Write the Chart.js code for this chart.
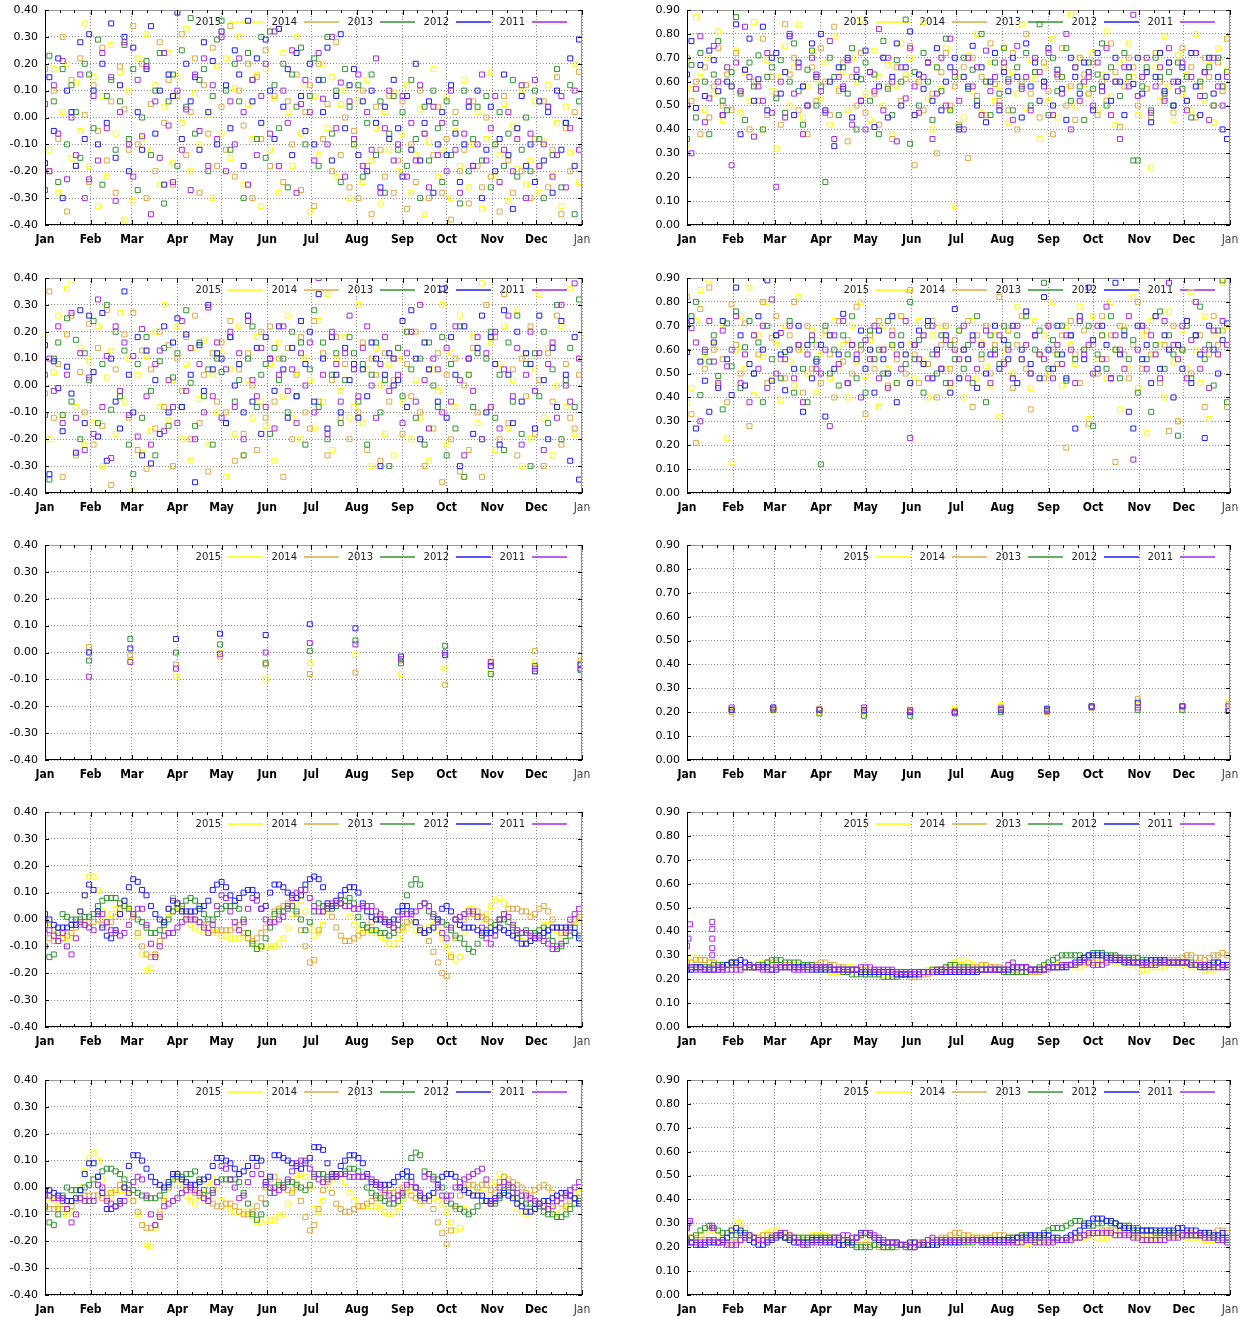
<!DOCTYPE html>
<html>
<head>
<meta charset="utf-8">
<script src="https://cdn.jsdelivr.net/npm/chart.js@4.4.0/dist/chart.umd.min.js"></script>
<style>
  html, body { margin:0; padding:0; background:#fff; width:1248px; height:1317px; overflow:hidden; }
  .p { position:absolute; }
</style>
</head>
<body>
<div class="p" style="left:0;top:0"><canvas id="c1L" width="600" height="250"></canvas></div>
<div class="p" style="left:642px;top:0"><canvas id="c1R" width="606" height="250"></canvas></div>
<div class="p" style="left:0;top:268px"><canvas id="c2L" width="600" height="250"></canvas></div>
<div class="p" style="left:642px;top:268px"><canvas id="c2R" width="606" height="250"></canvas></div>
<div class="p" style="left:0;top:535px"><canvas id="c3L" width="600" height="250"></canvas></div>
<div class="p" style="left:642px;top:535px"><canvas id="c3R" width="606" height="250"></canvas></div>
<div class="p" style="left:0;top:802px"><canvas id="c4L" width="600" height="250"></canvas></div>
<div class="p" style="left:642px;top:802px"><canvas id="c4R" width="606" height="250"></canvas></div>
<div class="p" style="left:0;top:1070px"><canvas id="c5L" width="600" height="250"></canvas></div>
<div class="p" style="left:642px;top:1070px"><canvas id="c5R" width="606" height="250"></canvas></div>
<script>
// axis + legend data
const monthStarts = [0,31,59,90,120,151,181,212,243,273,304,334,365];
const monthLabels = ['Jan','Feb','Mar','Apr','May','Jun','Jul','Aug','Sep','Oct','Nov','Dec','Jan'];
const monthEnds = [30,58,89,119,150,180,211,242,272,303,333,364];
const years = ['2015','2014','2013','2012','2011'];
const yearColors = ['rgb(255,255,0)','rgb(225,168,64)','rgb(50,150,50)','rgb(30,30,255)','rgb(168,40,232)'];
const dayStep = 3; // daily series sampled every 3rd day

// ---- row 1, left
const r1L_2015 = [
  .05,-.12,.18,-.28,.02,.20,-.15,.13,-.05,.35,
  -.18,.15,-.33,.08,-.22,.27,-.06,.17,-.38,.10,
  -.31,.22,-.08,.31,-.12,.12,-.25,.04,.24,-.17,
  .15,-.02,.33,-.20,.09,-.10,.28,.01,-.30,.19,
  -.06,.22,-.15,.11,.30,-.25,.05,-.08,.16,-.33,
  .18,-.12,.07,-.28,.24,.02,-.18,.30,-.06,.12,
  -.35,.08,-.14,.20,-.04,.15,-.22,.05,.10,-.30,
  -.10,.06,-.24,.14,-.16,-.04,-.32,.02,-.12,.09,
  -.20,-.06,.12,-.28,-.14,.03,-.36,-.09,.18,-.22,
  -.12,.08,-.30,-.05,-.18,.14,-.26,-.10,.02,-.34,
  -.08,.17,-.22,-.14,.05,-.31,-.03,-.19,.10,-.25,
  -.16,.06,-.28,-.09,.12,-.21,-.02,-.33,.04,-.13,.20,-.24
];
const r1L_2014 = [
  .18,-.20,.10,-.08,.30,-.35,.14,-.18,.22,.01,
  -.24,.12,-.05,.26,-.16,.06,-.28,.19,.03,-.12,
  .34,-.10,.20,-.30,.05,-.20,.28,-.02,.14,-.25,
  .08,.31,-.14,.02,.22,-.28,.12,-.06,.26,-.18,
  .04,-.12,.34,-.22,.10,-.03,.20,-.30,.15,-.08,
  .25,-.18,.08,.33,-.24,.06,-.10,.16,-.27,.02,
  .12,-.33,.20,-.08,.05,-.20,.28,-.14,.00,-.26,
  -.05,-.30,.10,-.18,-.36,.04,-.12,-.22,.08,-.28,
  -.16,.06,-.34,-.10,-.24,.10,-.06,-.30,-.14,.04,
  -.28,-.08,-.38,.02,-.20,-.12,-.32,.06,-.18,-.26,
  .00,-.22,-.10,-.35,.08,-.16,-.28,-.04,-.20,.12,
  -.30,-.08,-.18,.06,-.26,-.12,.15,-.36,-.04,-.20,.02,.17
];
const r1L_2013 = [
  -.27,.23,.06,-.24,.18,-.10,.12,.02,-.15,.20,
  .16,-.04,.29,-.25,.08,.14,-.12,.06,.27,-.08,
  .18,-.27,.00,.21,-.14,.10,.24,-.32,.06,.16,
  -.18,.25,.04,.37,-.06,.14,.18,-.20,.08,.29,
  .36,.10,-.12,.20,.06,-.30,.24,.14,-.08,.30,
  -.15,.32,.12,-.04,.20,-.26,.16,.04,.26,-.10,
  .08,.22,-.18,.14,.30,-.06,.10,-.24,.18,.04,
  -.10,.12,-.22,-.02,.16,-.14,.06,-.28,-.06,.08,
  -.12,.02,-.18,.14,-.08,-.30,.04,-.16,.10,-.04,
  -.24,.06,-.14,-.02,-.32,.10,-.20,-.08,.04,-.16,
  .08,-.26,-.10,.02,-.18,-.06,.14,-.22,-.12,.00,
  -.20,.10,-.08,-.30,.04,-.14,.18,-.26,-.02,.12,-.36,.06
];
const r1L_2012 = [
  -.17,.15,-.05,.22,-.30,.10,.02,-.18,.28,-.08,
  .31,.10,-.10,.20,-.02,.35,-.15,.12,.30,-.20,
  .26,.02,-.12,.18,.34,-.06,.10,-.25,.16,.08,
  .39,-.08,.20,.06,.15,-.12,.28,.02,.21,-.10,
  .32,.12,-.04,.25,.16,-.18,.36,.06,.22,-.02,
  .29,.10,-.08,.33,.04,.18,-.14,.24,.08,-.05,
  .20,-.10,.14,.02,.26,-.16,.08,.31,-.04,.12,
  .18,-.14,.06,-.20,.10,-.02,-.26,.04,-.08,.14,
  -.04,-.22,.08,-.12,.20,-.16,-.02,.06,-.28,-.10,
  .02,-.14,.12,-.06,-.24,-.10,.04,-.18,.10,-.30,
  -.12,.04,-.20,-.08,.16,-.14,-.34,-.04,.08,-.18,
  -.10,-.24,.06,-.16,.02,-.28,.10,-.12,-.02,.22,-.18,.29
];
const r1L_2011 = [
  .05,-.20,.12,-.06,.21,-.23,.00,-.14,.16,-.30,
  -.23,.08,-.16,.24,-.04,.15,-.31,.02,.28,-.10,
  -.22,.14,-.07,.19,-.36,.06,-.15,.24,-.03,-.24,
  .10,-.12,.03,-.27,.16,-.05,.22,-.18,.12,-.08,
  .30,-.20,.06,-.10,.22,.02,-.25,.14,-.14,.08,
  .20,-.06,.32,-.18,.10,-.02,.25,-.28,.05,.14,
  .02,-.16,.24,.07,-.10,.30,-.04,.13,-.22,.06,
  -.08,.16,-.18,.02,-.12,.22,-.28,-.04,.10,-.16,
  -.10,.08,-.22,-.02,-.16,.12,-.06,-.26,.04,-.14,
  -.02,-.20,.10,-.12,-.28,-.06,.06,-.18,-.10,.16,
  -.16,-.04,.08,-.24,-.12,.02,-.20,-.08,.12,-.30,
  -.06,.14,-.18,-.10,.04,-.22,-.14,.08,-.26,-.04,.10,-.12
];

// ---- row 1, right
const r1R_2015 = [
  .34,.57,.87,.62,.48,.70,.55,.81,.44,.66,
  .58,.73,.47,.64,.52,.85,.60,.40,.69,.56,
  .32,.62,.75,.50,.66,.84,.45,.58,.72,.61,
  .53,.68,.42,.79,.57,.64,.48,.70,.60,.86,
  .55,.44,.73,.62,.50,.67,.38,.58,.76,.63,
  .70,.46,.61,.85,.53,.40,.66,.57,.74,.49,
  .08,.62,.45,.71,.56,.80,.47,.60,.68,.52,
  .58,.75,.43,.64,.55,.84,.49,.69,.61,.36,
  .66,.52,.78,.45,.62,.57,.88,.50,.70,.59,
  .55,.72,.48,.63,.81,.54,.42,.68,.60,.76,
  .62,.46,.70,.57,.24,.66,.52,.79,.58,.44,
  .71,.55,.63,.48,.80,.60,.52,.67,.43,.74,.58,.65
];
const r1R_2014 = [
  .70,.52,.60,.38,.66,.45,.58,.74,.50,.63,
  .48,.72,.56,.65,.40,.60,.52,.78,.46,.62,
  .55,.42,.84,.63,.70,.48,.58,.38,.66,.52,
  .74,.60,.46,.83,.56,.68,.35,.62,.50,.72,
  .47,.64,.55,.42,.70,.58,.36,.66,.52,.61,
  .75,.25,.60,.48,.68,.55,.30,.64,.72,.50,
  .58,.42,.66,.28,.70,.54,.62,.46,.76,.59,
  .52,.66,.48,.72,.40,.60,.80,.55,.64,.45,
  .68,.56,.38,.62,.74,.50,.58,.44,.70,.63,
  .55,.68,.46,.60,.52,.76,.64,.41,.58,.70,
  .66,.50,.62,.57,.45,.72,.60,.53,.68,.47,
  .60,.74,.52,.66,.45,.58,.70,.62,.50,.68,.56,.78
];
const r1R_2013 = [
  .36,.67,.45,.72,.60,.38,.63,.77,.52,.48,
  .64,.87,.55,.44,.68,.58,.71,.40,.62,.66,
  .53,.69,.47,.60,.76,.56,.42,.65,.73,.50,
  .58,.18,.70,.62,.46,.66,.55,.74,.40,.61,
  .68,.52,.63,.38,.77,.57,.46,.69,.60,.86,
  .34,.64,.50,.72,.60,.44,.66,.56,.78,.48,
  .62,.41,.70,.57,.65,.52,.80,.60,.46,.68,
  .55,.74,.61,.48,.66,.58,.72,.50,.64,.84,
  .60,.46,.70,.56,.62,.74,.52,.66,.58,.44,
  .68,.57,.63,.76,.50,.66,.60,.54,.72,.62,
  .27,.27,.58,.66,.48,.70,.62,.55,.64,.50,
  .68,.57,.62,.45,.72,.60,.54,.66,.50,.70,.58,.64
];
const r1R_2012 = [
  .63,.77,.49,.67,.54,.73,.69,.56,.46,.60,
  .58,.84,.38,.65,.78,.52,.61,.83,.48,.70,
  .72,.55,.64,.79,.46,.68,.58,.50,.76,.62,
  .80,.48,.60,.33,.66,.57,.70,.45,.62,.52,
  .73,.64,.41,.58,.70,.45,.62,.76,.50,.66,
  .81,.46,.63,.57,.68,.52,.74,.48,.60,.66,
  .70,.40,.62,.58,.75,.50,.66,.43,.60,.72,
  .48,.64,.56,.70,.62,.45,.76,.58,.68,.52,
  .60,.74,.50,.65,.57,.44,.70,.62,.55,.68,
  .64,.48,.72,.58,.62,.52,.70,.60,.46,.66,
  .59,.70,.55,.64,.43,.62,.72,.56,.68,.50,
  .60,.66,.52,.72,.58,.46,.64,.70,.55,.62,.40,.36
];
const r1R_2011 = [
  .50,.30,.57,.79,.43,.53,.75,.60,.46,.66,
  .25,.68,.56,.83,.62,.37,.58,.52,.72,.47,
  .16,.60,.45,.80,.55,.66,.38,.50,.70,.63,
  .56,.47,.77,.36,.62,.58,.69,.42,.65,.52,
  .40,.64,.56,.82,.48,.70,.60,.35,.66,.53,
  .74,.58,.47,.62,.68,.36,.55,.70,.50,.78,
  .64,.52,.40,.70,.58,.66,.46,.73,.56,.62,
  .50,.68,.60,.44,.75,.57,.62,.48,.70,.64,
  .58,.72,.46,.63,.55,.80,.40,.66,.52,.60,
  .62,.50,.68,.56,.74,.46,.60,.36,.66,.58,
  .88,.54,.62,.70,.47,.58,.66,.52,.74,.60,
  .56,.68,.48,.62,.72,.54,.64,.44,.70,.58,.50,.62
];

// ---- row 2, left
const r2L_2015 = [
  .18,-.20,.05,.26,-.12,.36,.39,-.08,.14,-.22,
  .09,-.14,.22,-.30,.03,.13,-.18,.27,-.06,.10,
  -.39,.04,-.25,.11,-.17,.20,-.08,.30,-.13,.02,
  .22,-.20,.08,-.28,.14,-.05,.17,-.22,.04,-.10,
  .12,-.34,.06,-.18,.22,-.26,.02,-.12,.18,-.06,
  -.15,.08,-.28,.16,-.04,.26,-.12,.05,-.20,.10,
  .02,-.16,.24,-.06,.34,-.24,.10,-.02,.18,-.12,
  -.08,.30,-.14,.06,-.30,.14,.00,-.18,.08,-.26,
  .10,-.06,.20,-.20,.02,-.12,.16,-.28,.06,-.02,
  .30,-.22,.12,-.08,.26,-.34,.04,.18,-.14,.38,
  -.10,.16,-.24,.08,.22,-.16,.02,.28,-.30,.12,
  -.20,.06,.34,-.12,.14,-.26,.00,.22,-.08,.36,-.18,.10
];
const r2L_2014 = [
  -.03,.35,-.12,.08,-.34,.19,.26,-.26,.05,-.10,
  .23,-.22,.14,-.15,.28,-.37,.06,-.04,.19,-.12,
  .27,-.24,.13,-.31,.06,-.16,.20,-.08,.15,-.30,
  .10,-.02,.18,-.20,.26,-.14,.04,-.32,.12,-.06,
  .16,-.10,.24,-.28,.06,-.18,.12,.00,-.24,.20,
  -.12,.22,-.06,.10,-.34,.14,-.20,.04,.18,-.10,
  -.16,.24,-.06,.12,-.26,.02,.18,-.12,.08,-.20,
  .06,-.10,.16,-.24,.10,.04,-.28,.12,-.06,.02,
  .14,-.18,.08,-.04,.20,-.10,-.30,.06,-.16,.12,
  -.36,.04,-.20,.10,-.32,.00,-.24,.14,-.10,-.34,
  .30,-.08,.18,-.20,.34,-.14,.06,-.26,.10,-.04,
  .22,-.18,.02,-.30,.12,-.06,.26,-.22,.08,-.12,-.16,.04
];
const r2L_2013 = [
  .04,-.35,.10,.16,-.11,.25,-.06,.17,-.20,.12,
  .02,.24,-.14,.08,.30,-.09,.20,-.04,.13,-.22,
  -.33,.08,-.12,.18,-.02,-.26,.09,.14,-.15,.03,
  .12,-.08,.28,.01,-.15,.16,-.04,.06,-.22,.10,
  .05,-.14,.18,-.06,.02,-.26,.10,.22,-.08,.04,
  .08,-.18,.14,.02,.10,-.10,.20,-.04,.16,-.22,
  .06,.28,-.08,.16,-.20,.04,.12,-.14,.02,.18,
  .12,-.06,.08,-.22,.04,.16,-.10,.02,-.30,.10,
  .14,-.04,.20,.06,-.12,.10,-.22,.16,.00,-.08,
  .18,-.26,.08,-.16,.22,-.34,.04,-.08,.12,-.20,
  .10,.20,-.12,.04,-.24,.16,-.06,.26,-.18,.08,
  -.30,.12,-.04,.20,-.14,.06,.30,-.20,.02,.14,-.08,.32
];
const r2L_2012 = [
  .15,-.33,.09,-.01,-.17,.07,-.03,-.25,.28,-.14,
  .26,.05,-.19,.27,-.28,.10,-.06,-.16,.35,.04,
  -.10,.18,-.26,.13,-.29,.02,-.18,.22,-.10,.16,
  .25,-.08,.19,.04,-.36,.15,-.02,.30,.06,.12,
  .10,-.14,.18,.00,.08,-.10,.26,-.06,.14,-.18,
  .18,.10,-.02,.22,.06,-.12,.14,-.04,.24,.08,
  .20,-.06,.34,.10,-.16,.18,.04,-.10,.14,.02,
  .08,-.12,.06,-.04,.16,.10,-.30,.04,.12,.00,
  .02,.24,-.08,.28,.10,-.20,.16,.06,.22,-.06,
  .36,-.12,.18,.04,-.30,.22,.10,-.18,.14,.26,
  -.10,.18,.08,-.22,.28,.04,-.14,.20,-.06,.12,
  .08,-.16,.26,.02,-.20,.14,-.08,.24,.04,-.28,.18,-.35
];
const r2L_2011 = [
  -.11,.10,-.02,.22,-.14,.04,.27,-.12,.12,-.24,
  .03,-.18,.32,-.08,.11,-.27,.22,-.02,.16,-.11,
  .11,-.19,.21,-.04,-.22,.08,.13,-.17,.02,-.08,
  -.14,.24,-.02,.14,-.20,.08,-.10,.29,-.04,.16,
  -.12,.06,.20,-.08,.12,-.20,.24,.02,-.04,.14,
  -.08,.10,-.16,.04,.22,-.02,.06,-.14,.12,.00,
  .16,-.10,.40,.04,-.18,.20,.08,-.06,.12,.26,
  .06,-.04,.14,.22,.00,-.12,.08,.18,-.02,.10,
  .04,-.14,.12,.20,-.06,.30,.02,-.16,.10,.06,
  -.10,.14,-.06,.22,.02,-.26,.10,-.02,.18,-.20,
  .12,-.08,.20,-.16,.06,.26,-.04,.14,-.22,.04,
  .20,-.02,.12,-.24,.08,.16,-.12,.30,.00,-.06,.38,.10
];

// ---- row 2, right
const r2R_2015 = [
  .38,.44,.72,.85,.56,.89,.62,.47,.70,.23,
  .13,.60,.74,.52,.86,.41,.66,.57,.80,.48,
  .62,.39,.70,.55,.45,.82,.60,.50,.68,.42,
  .58,.66,.48,.72,.52,.62,.40,.70,.55,.80,
  .49,.64,.56,.36,.70,.52,.61,.46,.74,.58,
  .62,.48,.72,.55,.40,.66,.58,.70,.52,.45,
  .60,.68,.40,.56,.72,.48,.63,.53,.45,.66,
  .32,.60,.68,.50,.78,.56,.62,.44,.72,.58,
  .66,.50,.80,.58,.45,.70,.62,.54,.78,.60,
  .31,.74,.56,.66,.48,.80,.60,.35,.70,.52,
  .82,.44,.66,.25,.72,.58,.62,.40,.76,.55,
  .30,.68,.52,.84,.60,.46,.74,.31,.66,.58,.88,.70
];
const r2R_2014 = [
  .82,.33,.21,.77,.52,.86,.60,.45,.56,.38,
  .79,.62,.50,.71,.28,.66,.58,.80,.46,.65,
  .74,.56,.48,.66,.80,.60,.42,.70,.52,.62,
  .46,.68,.58,.40,.72,.55,.64,.50,.78,.60,
  .33,.66,.52,.72,.60,.45,.68,.56,.74,.50,
  .85,.58,.46,.66,.54,.72,.40,.62,.70,.52,
  .64,.48,.60,.72,.36,.66,.56,.70,.50,.62,
  .82,.55,.68,.44,.62,.74,.52,.35,.66,.58,
  .48,.70,.60,.54,.66,.19,.72,.58,.46,.68,
  .29,.62,.50,.74,.56,.66,.13,.70,.58,.48,
  .62,.80,.52,.68,.58,.74,.46,.62,.26,.70,
  .30,.60,.72,.50,.80,.66,.36,.58,.74,.62,.68,.36
];
const r2R_2013 = [
  .70,.74,.80,.41,.59,.55,.66,.49,.35,.71,
  .53,.76,.44,.61,.72,.50,.63,.38,.70,.56,
  .66,.48,.59,.72,.42,.62,.52,.38,.64,.56,
  .12,.70,.50,.60,.45,.66,.58,.74,.48,.62,
  .42,.68,.56,.60,.50,.72,.62,.46,.66,.54,
  .80,.56,.64,.42,.70,.58,.50,.66,.46,.62,
  .56,.68,.52,.62,.46,.74,.58,.38,.66,.60,
  .54,.70,.62,.48,.66,.56,.74,.50,.60,.68,
  .88,.52,.64,.58,.70,.47,.66,.56,.72,.60,
  .70,.28,.58,.66,.52,.74,.60,.48,.68,.56,
  .64,.42,.70,.56,.34,.62,.76,.52,.66,.58,
  .24,.60,.70,.48,.66,.78,.56,.62,.45,.68,.89,.38
];
const r2R_2012 = [
  .59,.72,.27,.55,.47,.34,.63,.44,.72,.56,
  .41,.86,.66,.45,.54,.50,.74,.60,.89,.47,
  .66,.58,.43,.60,.52,.70,.34,.62,.48,.55,
  .62,.32,.66,.52,.58,.75,.46,.62,.56,.68,
  .52,.60,.42,.68,.56,.50,.74,.38,.62,.58,
  .46,.62,.68,.54,.72,.48,.60,.52,.66,.42,
  .77,.48,.60,.56,.66,.44,.62,.50,.58,.70,
  .52,.64,.56,.70,.46,.60,.76,.54,.66,.48,
  .82,.60,.52,.70,.58,.48,.66,.27,.74,.56,
  .86,.64,.52,.70,.62,.48,.88,.58,.66,.34,
  .27,.70,.56,.62,.46,.74,.52,.66,.60,.40,
  .62,.52,.72,.46,.66,.58,.23,.70,.60,.50,.64,.71
];
const r2R_2011 = [
  .71,.69,.63,.30,.60,.72,.55,.46,.68,.53,
  .60,.74,.46,.58,.38,.66,.52,.70,.44,.81,
  .50,.67,.56,.70,.48,.62,.38,.58,.66,.52,
  .50,.60,.28,.66,.54,.72,.46,.62,.58,.40,
  .64,.56,.70,.48,.60,.44,.66,.58,.52,.72,
  .23,.62,.56,.66,.48,.70,.58,.52,.64,.46,
  .60,.56,.70,.48,.64,.52,.62,.68,.46,.58,
  .66,.54,.60,.48,.70,.56,.62,.50,.66,.58,
  .56,.70,.48,.62,.54,.66,.60,.46,.72,.58,
  .62,.50,.70,.56,.78,.48,.66,.60,.52,.74,
  .14,.60,.70,.52,.66,.58,.48,.72,.88,.62,
  .56,.70,.48,.64,.80,.52,.60,.44,.68,.58,.72,.62
];

// ---- row 3 (one value per month end)
const r3L_2015 = [.02,-.03,-.09,.00,-.10,-.04,-.01,-.08,-.06,-.07,-.035,-.04];
const r3L_2014 = [.02,-.01,-.045,-.015,-.045,-.08,-.075,-.03,-.12,-.04,.005,-.03];
const r3L_2013 = [-.03,.05,.00,.03,-.04,.005,.045,-.04,.025,-.08,-.05,-.065];
const r3L_2012 = [.00,.015,.05,.07,.065,.105,.09,-.015,-.01,-.05,-.07,-.045];
const r3L_2011 = [-.09,-.035,-.06,-.005,.00,.035,.03,-.025,.00,-.035,-.06,-.06];
const r3R_2015 = [.205,.205,.20,.20,.20,.215,.23,.20,.22,.23,.22,.245];
const r3R_2014 = [.20,.21,.215,.205,.205,.205,.22,.20,.22,.255,.225,.235];
const r3R_2013 = [.21,.21,.195,.185,.185,.195,.20,.205,.22,.21,.21,.205];
const r3R_2012 = [.21,.22,.21,.21,.20,.20,.21,.215,.225,.24,.225,.205];
const r3R_2011 = [.22,.215,.21,.22,.21,.20,.215,.21,.225,.22,.225,.225];

// ---- row 4, left
const r4L_2015 = [
  .01,-.01,-.04,-.06,-.07,-.07,-.06,-.02,.03,.09,
  .16,.16,.11,.03,.00,.02,.04,.06,.07,.05,
  .01,-.06,-.13,-.19,-.18,-.13,-.08,-.03,.01,.03,
  .05,.04,.01,-.02,-.03,-.04,-.05,-.05,-.05,-.05,
  -.06,-.06,-.07,-.07,-.07,-.06,-.07,-.09,-.10,-.11,
  -.10,-.10,-.10,-.09,-.07,-.03,.02,.06,.07,.03,
  -.03,-.06,-.05,-.02,.03,.05,.06,.07,.05,.01,
  -.02,-.04,-.04,-.04,-.05,-.05,-.06,-.07,-.09,-.09,
  -.07,-.04,-.03,-.02,-.04,-.05,-.05,-.03,-.02,-.04,
  -.07,-.10,-.13,-.15,-.14,-.05,.04,.04,.02,.00,
  .02,.05,.07,.08,.06,.01,-.03,-.06,-.08,-.09,
  -.08,-.07,-.04,-.02,-.02,-.03,-.04,-.06,-.05,-.03,-.01,.00
];
const r4L_2014 = [
  -.05,-.07,-.08,-.08,-.07,-.06,-.05,-.03,-.02,-.02,
  -.01,-.01,.00,-.02,-.03,-.01,.01,.04,.05,.04,
  .01,-.05,-.10,-.13,-.14,-.13,-.08,-.01,.04,.08,
  .06,.04,.02,.01,.00,-.01,-.02,-.03,-.04,-.04,
  -.04,-.04,-.04,-.03,-.02,-.05,-.07,-.08,-.07,-.05,
  -.03,.00,.03,.04,.05,.06,.05,.02,-.04,-.10,
  -.16,-.15,-.04,.03,.05,.01,-.03,-.06,-.08,-.08,
  -.07,-.06,-.05,-.03,-.01,.00,.01,.00,-.02,-.03,
  -.04,-.03,-.01,.00,-.01,-.03,-.05,-.08,-.12,-.16,
  -.20,-.21,-.14,-.07,-.02,.00,.02,.02,.03,.01,
  .00,-.01,-.02,.00,.02,.04,.04,.04,.03,.03,
  .01,.02,.04,.05,.03,.00,-.03,-.05,-.04,-.02,.00,.01
];
const r4L_2013 = [
  -.10,-.14,-.13,-.05,.02,.01,.00,.00,.00,.01,
  .01,.02,.05,.07,.08,.08,.08,.06,.05,.04,
  .02,.00,-.01,-.03,-.05,-.05,-.04,-.02,.00,.03,
  .04,.05,.07,.08,.07,.05,.02,.00,.00,.02,
  .04,.05,.05,.05,.04,.00,-.05,-.09,-.11,-.10,
  -.07,-.03,.02,.03,.03,.04,.05,.03,.00,-.04,
  -.01,.03,.06,.05,.05,.04,.05,.06,.07,.08,
  .06,.01,-.02,-.03,-.04,-.04,-.05,-.05,-.06,-.05,
  -.02,.03,.09,.13,.15,.13,.06,.03,.01,.00,
  -.01,-.02,-.04,-.06,-.07,-.09,-.11,-.12,-.09,-.06,
  -.04,-.03,-.02,.00,.00,-.01,-.03,-.05,-.05,-.04,
  -.05,-.05,-.04,-.03,-.06,-.08,-.10,-.10,-.08,-.06,-.03,-.06
];
const r4L_2012 = [
  .02,.00,-.02,-.03,-.03,-.03,-.02,-.02,.03,.09,
  .13,.11,.03,-.03,-.06,-.07,-.04,.02,.07,.12,
  .15,.14,.11,.09,.05,.02,.00,-.01,.04,.07,
  .06,.03,.03,.03,.03,.04,.05,.07,.11,.13,
  .14,.12,.09,.07,.08,.10,.11,.11,.09,.04,
  .05,.10,.13,.13,.12,.10,.09,.08,.09,.13,
  .15,.16,.15,.12,.06,.05,.07,.09,.11,.12,
  .12,.10,.06,.03,.01,.00,.00,-.01,-.01,.00,
  .03,.05,.05,.03,-.01,-.04,-.05,-.04,-.03,.00,
  .04,.05,.03,.00,-.02,-.03,-.03,-.03,-.04,-.05,
  -.05,-.05,-.04,-.03,-.04,-.05,-.06,-.07,-.09,-.09,
  -.08,-.07,-.06,-.05,-.04,-.03,-.03,-.03,-.03,-.03,-.05,-.07
];
const r4L_2011 = [
  -.02,-.04,-.06,-.08,-.05,-.10,-.13,-.07,-.01,-.02,
  -.03,-.04,.02,.02,-.01,-.04,-.05,-.06,-.05,-.02,
  .02,.04,.04,-.02,-.09,-.14,-.10,-.06,-.05,-.05,
  -.03,-.01,.00,.00,.00,-.01,-.03,-.05,-.02,.05,
  .09,.08,.03,-.01,-.04,-.01,.04,.08,.07,.04,
  .00,-.01,-.01,.00,.01,.05,.08,.10,.11,.11,
  .08,.05,.03,.03,.04,.06,.06,.06,.05,.05,
  .04,.04,.05,.05,.05,.03,.02,.00,-.02,-.03,
  .00,.02,.02,.02,.03,.05,.06,.05,.02,-.01,
  -.05,-.07,-.03,.00,.01,.02,.03,.03,.01,-.03,
  -.07,-.09,-.06,.00,.02,.01,-.02,-.04,-.05,-.05,
  -.06,-.06,-.07,-.08,-.09,-.11,-.11,-.09,-.05,.00,.02,.04
];

// ---- row 4, right
const r4R_2015 = [
  .28,.29,.29,.28,.28,.27,.27,.26,.25,.26,
  .27,.27,.26,.25,.25,.25,.26,.27,.27,.26,
  .26,.25,.25,.25,.26,.26,.26,.25,.25,.25,
  .24,.24,.23,.23,.23,.24,.25,.25,.24,.24,
  .24,.23,.23,.22,.22,.22,.23,.23,.23,.22,
  .22,.23,.23,.23,.24,.24,.24,.24,.25,.26,
  .27,.28,.28,.27,.26,.25,.25,.25,.25,.24,
  .24,.24,.23,.23,.23,.23,.23,.24,.24,.24,
  .25,.25,.25,.26,.26,.26,.26,.25,.25,.26,
  .26,.27,.27,.27,.28,.28,.27,.27,.27,.26,
  .26,.25,.24,.24,.25,.25,.25,.25,.26,.26,
  .26,.26,.26,.25,.25,.25,.24,.24,.24,.25,.25,.25
];
const r4R_2014 = [
  .27,.27,.28,.28,.28,.27,.27,.26,.26,.26,
  .26,.26,.25,.25,.25,.25,.26,.26,.27,.27,
  .27,.26,.26,.26,.25,.25,.25,.26,.26,.26,
  .27,.27,.26,.26,.25,.25,.24,.24,.24,.24,
  .24,.24,.24,.23,.23,.23,.22,.22,.22,.22,
  .21,.21,.21,.22,.22,.23,.23,.24,.25,.25,
  .24,.24,.24,.24,.25,.25,.26,.26,.25,.25,
  .25,.24,.24,.24,.24,.23,.23,.23,.23,.23,
  .24,.24,.25,.25,.25,.26,.26,.26,.27,.27,
  .27,.27,.28,.28,.28,.29,.29,.28,.28,.28,
  .28,.27,.27,.27,.27,.27,.27,.28,.28,.28,
  .28,.29,.30,.30,.29,.29,.28,.29,.30,.30,.31,.30
];
const r4R_2013 = [
  .24,.25,.25,.25,.25,.25,.26,.26,.26,.26,
  .27,.27,.26,.25,.25,.25,.26,.26,.27,.28,
  .28,.28,.27,.27,.27,.27,.26,.26,.26,.25,
  .25,.25,.25,.24,.24,.23,.23,.22,.22,.22,
  .22,.22,.22,.22,.21,.21,.21,.21,.22,.22,
  .22,.23,.23,.23,.23,.24,.24,.24,.25,.26,
  .26,.25,.25,.25,.24,.24,.24,.24,.24,.24,
  .24,.23,.23,.23,.23,.23,.23,.24,.24,.25,
  .26,.27,.28,.29,.30,.30,.30,.30,.30,.29,
  .30,.31,.31,.31,.30,.30,.30,.29,.29,.29,
  .29,.29,.28,.28,.28,.27,.27,.27,.27,.27,
  .27,.27,.27,.27,.26,.26,.26,.26,.26,.27,.26,.26
];
const r4R_2012 = [
  .24,.24,.25,.25,.24,.24,.24,.24,.25,.26,
  .27,.27,.28,.27,.26,.25,.25,.25,.25,.24,
  .24,.25,.25,.25,.25,.25,.25,.25,.24,.24,
  .24,.24,.24,.24,.24,.24,.24,.24,.24,.23,
  .23,.23,.23,.23,.23,.23,.23,.22,.22,.22,
  .22,.22,.22,.23,.23,.23,.23,.23,.23,.23,
  .23,.23,.23,.23,.23,.23,.24,.24,.24,.24,
  .24,.24,.24,.25,.25,.25,.25,.24,.24,.24,
  .24,.25,.25,.25,.25,.25,.26,.27,.28,.29,
  .30,.30,.30,.30,.29,.29,.28,.28,.27,.27,
  .27,.27,.27,.27,.28,.28,.28,.28,.27,.27,
  .27,.27,.27,.26,.26,.25,.25,.26,.27,.27,.26,.26
];
const r4R_2011 = [
  .25,.25,.24,.24,.24,.24,.24,.25,.24,.24,
  .24,.24,.24,.25,.25,.25,.25,.24,.24,.24,
  .25,.25,.25,.25,.24,.24,.24,.24,.25,.25,
  .25,.25,.25,.24,.24,.24,.24,.24,.24,.25,
  .25,.25,.24,.24,.24,.24,.24,.23,.23,.23,
  .23,.23,.23,.23,.23,.23,.24,.24,.24,.24,
  .24,.24,.24,.24,.24,.24,.24,.24,.24,.24,
  .24,.24,.26,.27,.25,.25,.25,.24,.24,.24,
  .24,.25,.25,.25,.26,.26,.26,.26,.27,.28,
  .27,.26,.26,.26,.27,.28,.29,.29,.28,.28,
  .27,.27,.26,.26,.26,.26,.27,.27,.27,.27,
  .27,.27,.27,.26,.26,.26,.26,.25,.25,.25,.25,.25
];
// stray 2011 points early in the year: [day, value]
const r4R_2011_extra = [[0,.34],[1,.37],[2,.43],[17,.30],[17,.33],[17,.37],[17,.41],[17,.44]];

// ---- row 5, left
const r5L_2015 = [
  -.03,-.04,-.05,-.07,-.08,-.10,-.09,-.05,.00,.06,
  .11,.13,.10,.03,-.02,-.03,-.02,-.01,-.01,-.01,
  -.05,-.10,-.14,-.21,-.22,-.15,-.09,-.04,.00,.04,
  .03,.00,-.03,-.05,-.06,-.05,-.02,.02,.03,.00,
  -.05,-.08,-.08,-.09,-.09,-.09,-.09,-.11,-.13,-.13,
  -.12,-.12,-.12,-.11,-.10,-.06,-.01,.03,.05,.04,
  .00,-.08,-.09,-.05,.00,.03,.05,.04,.02,-.02,
  -.05,-.07,-.07,-.07,-.07,-.07,-.08,-.09,-.10,-.09,
  -.07,-.04,-.02,-.01,-.04,-.06,-.05,-.05,-.04,-.05,
  -.06,-.09,-.13,-.16,-.15,-.08,-.02,-.01,.00,-.02,
  -.04,-.05,.02,.05,.04,.00,-.05,-.08,-.09,-.10,
  -.09,-.08,-.06,-.06,-.07,-.08,-.10,-.09,-.08,-.06,-.04,-.02
];
const r5L_2014 = [
  -.08,-.08,-.08,-.08,-.08,-.08,-.07,-.05,-.04,-.03,
  -.03,-.03,-.03,-.04,-.04,-.02,-.01,.01,.00,-.02,
  -.05,-.09,-.14,-.15,-.15,-.14,-.10,-.05,.00,.04,
  .05,.03,.01,-.01,-.02,-.03,-.04,-.05,-.06,-.07,
  -.07,-.06,-.06,-.07,-.09,-.10,-.10,-.09,-.07,-.04,
  .00,.03,.04,.02,.00,-.01,-.02,.00,-.05,-.11,
  -.16,-.14,-.08,-.01,.02,-.02,-.06,-.08,-.09,-.09,
  -.08,-.07,-.07,-.06,-.05,-.04,-.03,-.02,-.02,-.02,
  -.01,.00,.00,-.03,-.04,-.05,-.05,-.05,-.08,-.13,
  -.17,-.21,-.16,-.08,-.03,.00,.01,.01,.00,.01,
  .01,-.01,-.02,.02,.04,.03,.02,.01,.00,-.02,
  -.03,-.01,.00,.01,.00,-.02,-.05,-.06,-.07,-.05,-.04,-.04
];
const r5L_2013 = [
  -.07,-.13,-.14,-.10,-.03,.00,-.01,-.01,-.01,.00,
  .01,.03,.04,.06,.07,.07,.06,.05,.03,.01,
  -.01,-.02,-.03,-.04,-.04,-.04,-.03,-.01,.01,.03,
  .04,.04,.05,.05,.06,.03,-.01,-.03,-.01,.02,
  .03,.03,.03,.03,.02,-.02,-.06,-.10,-.12,-.10,
  -.06,-.02,.00,.01,.01,.02,.02,.01,.00,-.01,
  .01,.04,.05,.05,.04,.04,.04,.05,.06,.07,
  .07,.06,.04,.00,-.02,-.03,-.04,-.05,-.06,-.06,
  -.05,-.03,.04,.11,.13,.12,.06,.05,.04,.03,
  .00,-.03,-.06,-.07,-.08,-.09,-.10,-.09,-.07,-.05,
  -.05,-.06,-.06,-.04,-.01,.00,-.02,-.04,-.05,-.06,
  -.06,-.06,-.07,-.09,-.10,-.10,-.11,-.11,-.10,-.08,-.06,-.05
];
const r5L_2012 = [
  -.01,-.01,-.02,-.03,-.04,-.05,-.05,-.04,-.01,.05,
  .09,.09,.04,-.02,-.08,-.08,-.07,-.05,.00,.08,
  .12,.12,.10,.07,.04,.02,.01,.00,.02,.05,
  .05,.03,.02,.01,.01,.02,.03,.04,.08,.11,
  .11,.10,.09,.07,.05,.06,.08,.11,.11,.10,
  .02,.04,.12,.12,.11,.10,.09,.08,.07,.09,
  .11,.15,.15,.14,.09,.05,.05,.08,.10,.12,
  .12,.11,.09,.05,.02,.01,.01,.01,.01,.02,
  .04,.05,.06,.04,.00,-.03,-.04,-.03,-.02,.01,
  .04,.05,.05,.04,.00,-.01,-.02,-.03,-.03,-.03,
  -.05,-.05,-.04,-.03,-.02,-.03,-.04,-.06,-.07,-.09,
  -.09,-.08,-.06,-.05,-.05,-.04,-.03,-.02,-.02,-.03,-.04,-.06
];
const r5L_2011 = [
  -.03,-.03,-.04,-.04,-.05,-.08,-.13,-.10,-.04,-.05,
  -.05,-.05,.01,.00,-.05,-.06,-.07,-.06,-.05,-.02,
  .02,.04,.03,-.03,-.10,-.14,-.11,-.07,-.06,-.05,
  -.04,-.02,-.01,.00,-.01,-.02,-.04,-.05,-.02,.02,
  .08,.07,.03,.00,-.04,-.03,.02,.05,.08,.05,
  .01,.00,-.02,-.01,.00,.03,.06,.09,.10,.10,
  .07,.05,.03,.02,.03,.04,.04,.05,.05,.04,
  .04,.04,.04,.04,.03,.02,.00,-.01,-.03,-.04,
  -.03,-.02,.01,.02,.00,-.02,.04,.05,.03,.00,
  -.03,-.05,-.03,.00,.02,.03,.04,.05,.06,.07,
  .03,-.06,-.05,.00,.02,.01,.00,-.02,-.03,-.03,
  -.04,-.05,-.06,-.07,-.08,-.07,-.05,-.04,-.03,-.01,.00,.02
];

// ---- row 5, right
const r5R_2015 = [
  .24,.24,.24,.25,.26,.27,.27,.25,.24,.26,
  .28,.30,.30,.28,.25,.24,.24,.25,.26,.27,
  .27,.26,.25,.25,.24,.24,.24,.24,.25,.25,
  .25,.25,.24,.23,.23,.23,.23,.24,.24,.25,
  .24,.23,.23,.22,.22,.22,.22,.22,.21,.21,
  .22,.22,.22,.22,.22,.22,.22,.22,.23,.23,
  .23,.24,.24,.24,.24,.24,.24,.24,.24,.24,
  .23,.23,.23,.22,.22,.21,.21,.22,.22,.22,
  .23,.23,.23,.23,.23,.23,.23,.24,.24,.24,
  .25,.25,.24,.24,.24,.25,.25,.26,.26,.26,
  .25,.25,.24,.24,.24,.24,.25,.25,.25,.25,
  .25,.25,.24,.24,.24,.24,.23,.23,.23,.23,.23,.24
];
const r5R_2014 = [
  .23,.24,.24,.23,.23,.23,.23,.22,.22,.22,
  .22,.22,.23,.24,.24,.24,.24,.25,.25,.25,
  .25,.25,.24,.24,.24,.23,.23,.23,.24,.24,
  .24,.24,.24,.23,.23,.22,.22,.22,.21,.21,
  .21,.21,.21,.20,.20,.20,.20,.20,.21,.21,
  .21,.22,.22,.22,.23,.23,.23,.24,.24,.25,
  .26,.26,.25,.25,.24,.24,.24,.24,.24,.25,
  .25,.25,.24,.24,.24,.25,.25,.25,.24,.24,
  .23,.23,.23,.23,.23,.23,.24,.24,.24,.25,
  .25,.26,.26,.27,.27,.27,.27,.27,.26,.26,
  .25,.25,.25,.25,.25,.25,.25,.25,.25,.25,
  .25,.26,.26,.26,.25,.25,.26,.26,.26,.27,.27,.26
];
const r5R_2013 = [
  .23,.24,.25,.27,.28,.29,.28,.27,.26,.26,
  .25,.25,.26,.26,.25,.24,.23,.23,.23,.24,
  .25,.25,.24,.24,.24,.24,.24,.24,.24,.24,
  .24,.24,.24,.24,.24,.23,.23,.21,.20,.20,
  .20,.20,.21,.21,.20,.20,.20,.21,.21,.20,
  .20,.20,.21,.21,.21,.22,.22,.23,.23,.23,
  .23,.23,.22,.22,.22,.23,.23,.23,.23,.23,
  .23,.23,.24,.24,.24,.25,.25,.24,.23,.24,
  .26,.27,.28,.28,.28,.29,.30,.31,.31,.30,
  .29,.29,.30,.30,.31,.30,.30,.29,.29,.29,
  .28,.28,.27,.27,.27,.26,.26,.26,.26,.26,
  .26,.25,.25,.25,.25,.25,.25,.25,.24,.24,.24,.23
];
const r5R_2012 = [
  .22,.22,.21,.21,.21,.22,.22,.22,.23,.24,
  .27,.28,.27,.25,.23,.22,.21,.21,.22,.23,
  .24,.25,.24,.23,.22,.22,.22,.22,.23,.23,
  .23,.22,.22,.22,.21,.21,.22,.22,.24,.26,
  .26,.25,.24,.23,.22,.22,.22,.22,.21,.21,
  .22,.22,.21,.21,.21,.21,.21,.22,.22,.22,
  .22,.22,.23,.23,.23,.23,.23,.23,.23,.23,
  .23,.23,.23,.23,.24,.24,.24,.25,.25,.25,
  .25,.25,.24,.24,.23,.24,.25,.26,.27,.29,
  .30,.32,.32,.32,.31,.31,.30,.29,.28,.28,
  .27,.27,.27,.27,.27,.27,.27,.27,.27,.27,
  .28,.28,.27,.27,.27,.26,.26,.26,.25,.25,.26,.24
];
const r5R_2011 = [
  .29,.22,.22,.22,.22,.23,.23,.22,.22,.21,
  .21,.21,.23,.24,.25,.24,.23,.23,.23,.24,
  .25,.26,.26,.25,.24,.22,.21,.21,.22,.22,
  .22,.23,.23,.24,.24,.25,.25,.24,.24,.25,
  .26,.26,.25,.24,.23,.22,.22,.22,.21,.21,
  .20,.20,.21,.22,.23,.24,.23,.23,.23,.23,
  .23,.23,.23,.23,.23,.23,.22,.22,.22,.22,
  .22,.22,.22,.22,.22,.22,.23,.23,.22,.22,
  .22,.22,.22,.23,.23,.23,.23,.24,.24,.25,
  .26,.26,.26,.26,.26,.26,.25,.25,.25,.25,
  .24,.24,.23,.23,.23,.23,.23,.23,.24,.24,
  .24,.25,.25,.25,.25,.25,.24,.24,.24,.23,.23,.22
];
const r5R_2011_extra = [[0,.28],[1,.30],[2,.31],[17,.28],[17,.29]];

// ---------------------------------------------------------------
const FONT = "'DejaVu Sans', 'Liberation Sans', sans-serif";
const MONTH_FONT = "'DejaVu Sans Condensed', 'Liberation Sans', sans-serif";

// gnuplot-ish frame, inward tics and the in-plot key
const frameKey = {
  id: 'frameKey',
  beforeDatasetsDraw(chart) {
    const { ctx, chartArea: a } = chart;
    ctx.save();
    ctx.font = '10px ' + FONT;
    ctx.textAlign = 'right';
    ctx.textBaseline = 'middle';
    const y = a.top + 12;
    years.forEach((yr, i) => {
      const x1 = a.right - 15 - (years.length - 1 - i) * 76;
      const x0 = x1 - 35;
      ctx.fillStyle = '#222';
      ctx.fillText(yr, x0 - 7, y + 0.5);
      ctx.strokeStyle = yearColors[i];
      ctx.lineWidth = 1.5;
      ctx.beginPath(); ctx.moveTo(x0, y); ctx.lineTo(x1, y); ctx.stroke();
    });
    ctx.restore();
  },
  afterDatasetsDraw(chart) {
    const { ctx, chartArea: a, scales } = chart;
    const xs = scales.x, ys = scales.y;
    const seg = (x0, y0, x1, y1) => { ctx.beginPath(); ctx.moveTo(x0, y0); ctx.lineTo(x1, y1); ctx.stroke(); };
    ctx.save();
    ctx.lineWidth = 1;
    ctx.strokeStyle = '#999';
    seg(a.left, a.top + 0.5, a.right, a.top + 0.5);
    seg(a.right - 0.5, a.top, a.right - 0.5, a.bottom);
    ctx.strokeStyle = '#000';
    seg(a.left + 0.5, a.top, a.left + 0.5, a.bottom);
    seg(a.left, a.bottom - 0.5, a.right, a.bottom - 0.5);
    monthStarts.forEach((d, i) => {
      const x = Math.round(xs.getPixelForValue(d)) + 0.5;
      seg(x, a.bottom, x, a.bottom - 5);
      seg(x, a.top, x, a.top + 5);
      if (i < 12) {
        [10, 20].forEach(o => {
          const xm = Math.round(xs.getPixelForValue(d + o)) + 0.5;
          seg(xm, a.bottom, xm, a.bottom - 3);
          seg(xm, a.top, xm, a.top + 3);
        });
      }
    });
    ys.ticks.forEach(t => {
      const y = Math.round(ys.getPixelForValue(t.value)) + 0.5;
      seg(a.left, y, a.left + 4, y);
      seg(a.right, y, a.right - 4, y);
    });
    ctx.restore();
  }
};

function toPoints(arr, xs) {
  return arr.map((v, i) => ({ x: xs ? xs[i] : i * dayStep, y: v }));
}

function makePanel(id, series, yMin, yMax, xs, extra) {
  const datasets = series.map((arr, i) => {
    let pts = toPoints(arr, xs);
    if (extra && i === series.length - 1) pts = pts.concat(extra.map(p => ({ x: p[0], y: p[1] })));
    return {
      label: years[i],
      data: pts,
      order: series.length - 1 - i,
      showLine: false,
      pointStyle: 'rect',
      pointRadius: 3.5,
      pointBorderWidth: 1,
      pointBorderColor: yearColors[i],
      pointBackgroundColor: 'rgba(0,0,0,0)'
    };
  });
  new Chart(document.getElementById(id), {
    type: 'scatter',
    data: { datasets },
    options: {
      responsive: false,
      animation: false,
      events: [],
      layout: { padding: { top: 10, right: 18, left: 0, bottom: 0 } },
      plugins: { legend: { display: false }, tooltip: { enabled: false } },
      scales: {
        x: {
          type: 'linear', min: 0, max: 365,
          afterBuildTicks: s => { s.ticks = monthStarts.map(v => ({ value: v })); },
          afterFit: s => { s.height = 25; },
          grid: { color: 'rgba(0,0,0,0.45)', lineWidth: 1, drawTicks: false },
          border: { display: false, dash: [1, 2] },
          ticks: {
            autoSkip: false, maxRotation: 0, padding: 8,
            color: c => c.index === 12 ? '#444' : '#000',
            font: c => ({ family: MONTH_FONT, size: 12, weight: c.index === 12 ? 'normal' : 'bold' }),
            callback: (v, i) => monthLabels[i]
          }
        },
        y: {
          min: yMin, max: yMax,
          // fixed gutter; no extra label padding so the plot keeps its full height
          afterFit: s => { s.width = 45; s.paddingTop = 0; s.paddingBottom = 0; },
          grid: { color: 'rgba(0,0,0,0.45)', lineWidth: 1, drawTicks: false },
          border: { display: false, dash: [1, 2] },
          ticks: {
            stepSize: 0.1, padding: 7, color: '#000',
            font: { family: FONT, size: 11 },
            callback: v => (Math.abs(v) < 1e-9 ? 0 : v).toFixed(2)
          }
        }
      }
    },
    plugins: [frameKey]
  });
}

makePanel('c1L', [r1L_2015, r1L_2014, r1L_2013, r1L_2012, r1L_2011], -0.4, 0.4);
makePanel('c1R', [r1R_2015, r1R_2014, r1R_2013, r1R_2012, r1R_2011], 0, 0.9);
makePanel('c2L', [r2L_2015, r2L_2014, r2L_2013, r2L_2012, r2L_2011], -0.4, 0.4);
makePanel('c2R', [r2R_2015, r2R_2014, r2R_2013, r2R_2012, r2R_2011], 0, 0.9);
makePanel('c3L', [r3L_2015, r3L_2014, r3L_2013, r3L_2012, r3L_2011], -0.4, 0.4, monthEnds);
makePanel('c3R', [r3R_2015, r3R_2014, r3R_2013, r3R_2012, r3R_2011], 0, 0.9, monthEnds);
makePanel('c4L', [r4L_2015, r4L_2014, r4L_2013, r4L_2012, r4L_2011], -0.4, 0.4);
makePanel('c4R', [r4R_2015, r4R_2014, r4R_2013, r4R_2012, r4R_2011], 0, 0.9, null, r4R_2011_extra);
makePanel('c5L', [r5L_2015, r5L_2014, r5L_2013, r5L_2012, r5L_2011], -0.4, 0.4);
makePanel('c5R', [r5R_2015, r5R_2014, r5R_2013, r5R_2012, r5R_2011], 0, 0.9, null, r5R_2011_extra);
</script>
</body>
</html>
